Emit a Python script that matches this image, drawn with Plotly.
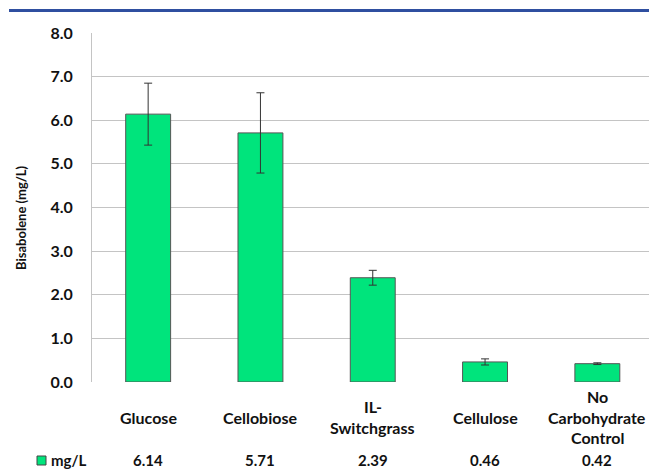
import plotly.graph_objects as go

# Bisabolene titers by carbon source
categories = ["Glucose", "Cellobiose", "IL-\nSwitchgrass", "Cellulose", "No\nCarbohydrate\nControl"]
titers = [6.14, 5.71, 2.39, 0.46, 0.42]
titer_err = [0.71, 0.92, 0.17, 0.07, 0.02]
series_name = "mg/L"
y_ticks = [0, 1, 2, 3, 4, 5, 6, 7, 8]

W, H = 649, 471
L, T, B = 92, 33, 89
PLOT_H = H - T - B
PLOT_W = W - L
BAR = "#00E47C"
FONT = "Lato"
TXT = "#111111"


def py(p):
    """pixel row -> paper y"""
    return (H - B - p) / PLOT_H


def px(p):
    """pixel column -> paper x"""
    return (p - L) / PLOT_W


x_pos = list(range(len(categories)))

fig = go.Figure()
fig.add_trace(go.Bar(
    x=x_pos, y=titers, width=0.4,
    marker=dict(color=BAR, line=dict(color="#555555", width=1)),
    error_y=dict(type="data", array=titer_err, visible=True,
                 color="#333333", thickness=1, width=4),
    showlegend=False,
))

ann = []
# category labels (data table header row), vertically centred
for i, cat in enumerate(categories):
    lines = cat.split("\n")
    n = len(lines)
    for k, ln in enumerate(lines):
        yc = 417 + (k - (n - 1) / 2) * 20.5
        ann.append(dict(x=i, xref="x", y=py(yc), yref="paper", text=ln,
                        showarrow=False, xanchor="center", yanchor="middle",
                        font=dict(family=FONT, size=16, color=TXT, weight="bold")))
# value row
for i, v in enumerate(titers):
    ann.append(dict(x=i, xref="x", y=py(460), yref="paper", text=f"{v:.2f}",
                    showarrow=False, xanchor="center", yanchor="middle",
                    font=dict(family=FONT, size=15, color=TXT, weight="bold")))
# legend key text
ann.append(dict(x=px(49), xref="paper", y=py(460), yref="paper", text=series_name,
                showarrow=False, xanchor="left", yanchor="middle",
                font=dict(family=FONT, size=15, color=TXT, weight="bold")))
# y axis title
ann.append(dict(x=px(21), xref="paper", y=py(218), yref="paper",
                text="Bisabolene (mg/L)", textangle=-90, showarrow=False,
                xanchor="center", yanchor="middle",
                font=dict(family=FONT, size=13, color=TXT, weight="bold")))

shapes = [
    # rule across the top
    dict(type="line", xref="paper", yref="paper", x0=px(9), x1=px(649),
         y0=py(10.5), y1=py(10.5), line=dict(color="#2F4FA0", width=3)),
    # legend key swatch
    dict(type="rect", xref="paper", yref="paper", x0=px(37), x1=px(46),
         y0=py(456), y1=py(465), fillcolor=BAR, line=dict(color="#444444", width=1)),
]

fig.update_layout(
    width=W, height=H,
    margin=dict(l=L, r=0, t=T, b=B),
    paper_bgcolor="white", plot_bgcolor="white",
    annotations=ann, shapes=shapes,
    xaxis=dict(range=[-0.5, -0.5 + PLOT_W / 112.3], showticklabels=False,
               showgrid=False, zeroline=False, showline=False, fixedrange=True),
    yaxis=dict(range=[0, 8], tickvals=y_ticks,
               ticktext=[f"{t:.1f}" for t in y_ticks],
               showgrid=True, gridcolor="#C4C4C4", gridwidth=1,
               zeroline=False, showline=True, linecolor="#C4C4C4", linewidth=1,
               ticks="", ticklabelstandoff=15,
               tickfont=dict(family=FONT, size=16, color=TXT, weight="bold")),
)

fig.write_html("out.html")
